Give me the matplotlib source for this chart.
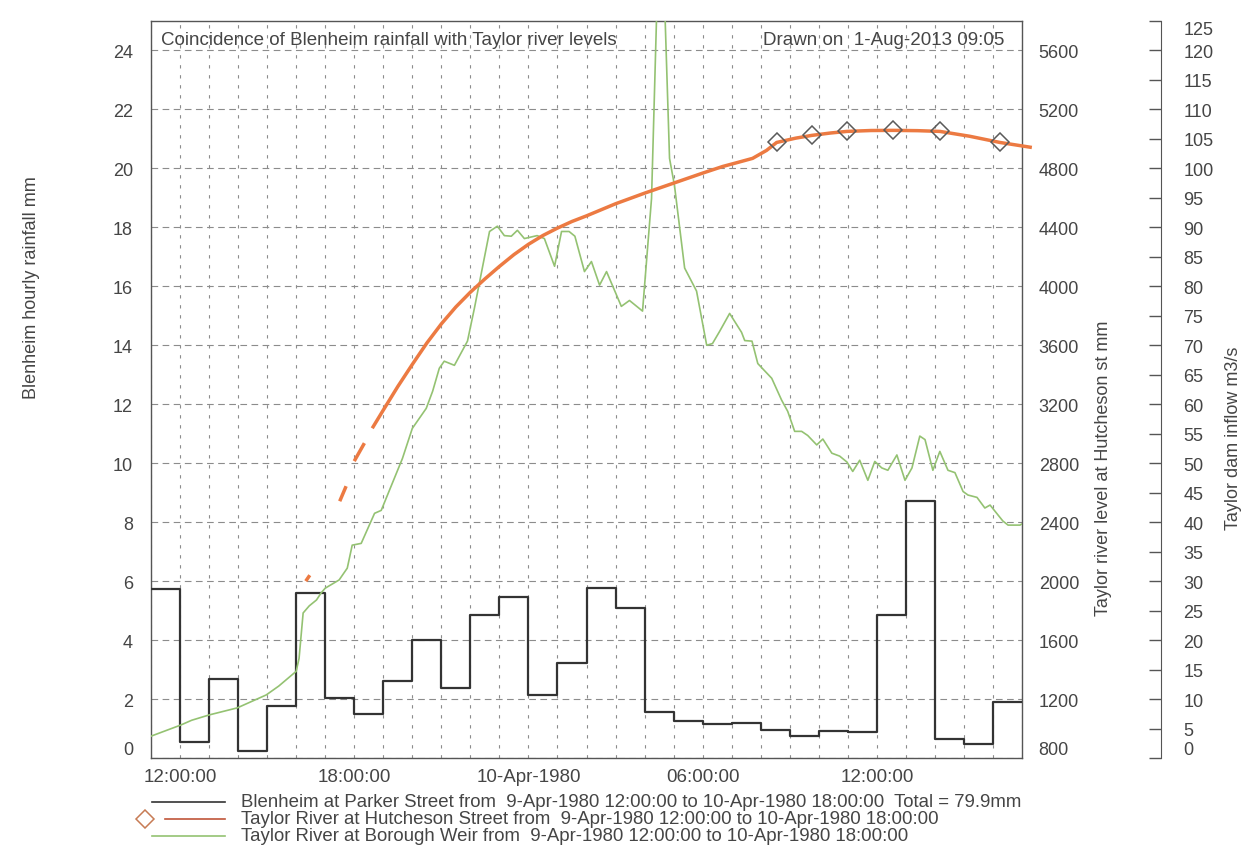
import matplotlib
matplotlib.use("Agg")
import matplotlib.pyplot as plt
import numpy as np
from matplotlib.lines import Line2D

FONT = ['Liberation Sans', 'DejaVu Sans']
NARROW = ['Liberation Sans Narrow', 'Liberation Sans', 'DejaVu Sans']
TXT = '#454545'
plt.rcParams['font.family'] = FONT

# hours since 9-Apr-1980 00:00
rain_start = list(range(11, 41))
rain_mm = [5.73, 0.54, 2.68, 0.24, 1.76, 5.6, 2.05, 1.48, 2.62, 4.01,
           2.37, 4.86, 5.46, 2.14, 3.23, 5.78, 5.08, 1.57, 1.27, 1.16,
           1.19, 0.95, 0.75, 0.9, 0.88, 4.86, 8.71, 0.66, 0.47, 1.9]

nan = np.nan
level_hours = [16.33, 16.47, nan, 17.5, 17.72, nan, 18.0, 18.35, nan,
               18.62, 19.0, 19.5, 20.0, 20.5, 21.0, 21.5, 22.0, 22.5, 23.0,
               23.5, 24.0, 24.5, 25.0, 25.5, 26.0, 27.0, 28.0, 29.0, 30.0,
               30.69, 31.2, 31.72, 32.2, 32.55, 33.2, 33.76, 34.4, 34.97,
               35.8, 36.55, 37.4, 38.17, 39.2, 40.24, 41.34]
level_mm = [2000, 2040, nan, 2542, 2644, nan, 2814, 2936, nan,
            3037, 3160, 3320, 3470, 3615, 3745, 3860, 3960, 4050, 4135,
            4215, 4285, 4345, 4395, 4440, 4478, 4560, 4632, 4700, 4768,
            4813, 4840, 4868, 4922, 4976, 5005, 5024, 5040, 5051,
            5057, 5058, 5056, 5051, 5018, 4976, 4942]
marker_hours = [32.55, 33.76, 34.97, 36.55, 38.17, 40.24]
marker_mm = [4976, 5024, 5051, 5058, 5051, 4976]

flow_hours = [11.0, 12.03, 12.4, 13.0, 13.97, 14.97, 15.4, 16.0, 16.1, 16.24,
              16.45, 16.7, 16.86, 17.0, 17.48, 17.76, 17.93, 18.24, 18.7, 18.93,
              19.66, 20.0, 20.48, 20.7, 20.93, 21.1, 21.45, 21.9, 22.14, 22.66,
              22.93, 23.17, 23.41, 23.62, 23.86, 24.3, 24.55, 24.9, 25.14, 25.4,
              25.6, 25.93, 26.17, 26.45, 26.69, 27.2, 27.48, 27.93, 28.24, 28.55,
              28.86, 29.03, 29.38, 29.79, 30.14, 30.34, 30.59, 30.93, 31.34, 31.45,
              31.7, 31.9, 32.38, 32.72, 32.93, 33.17, 33.41, 33.62, 33.93, 34.14,
              34.45, 34.72, 34.97, 35.17, 35.41, 35.69, 35.93, 36.17, 36.38, 36.69,
              36.97, 37.21, 37.48, 37.66, 37.93, 38.17, 38.45, 38.69, 38.97, 39.14,
              39.45, 39.72, 39.9, 40.34, 40.52, 40.93, 41.0]
flow_m3s = [3.7, 5.6, 6.4, 7.3, 8.5, 10.7, 12.2, 14.7, 16.9, 24.6,
            25.8, 26.8, 28.0, 28.8, 30.2, 32.2, 36.1, 36.4, 41.5, 42.0,
            50.8, 55.9, 59.3, 62.2, 66.1, 67.3, 66.6, 70.7, 76.3, 89.3,
            90.2, 88.6, 88.5, 89.5, 88.1, 88.6, 88.1, 83.4, 89.3, 89.3,
            88.5, 82.5, 84.2, 80.2, 82.5, 76.6, 77.6, 75.8, 94.9, 150.0,
            101.7, 97.1, 83.1, 79.2, 70.0, 70.3, 72.4, 75.4, 72.2, 70.8,
            70.7, 66.9, 64.4, 60.7, 58.8, 55.4, 55.4, 54.7, 53.1, 54.1,
            51.7, 51.2, 50.2, 48.6, 50.5, 47.1, 50.3, 49.2, 48.8, 51.4,
            47.1, 49.2, 54.6, 54.0, 48.8, 52.0, 48.8, 48.4, 45.2, 44.6,
            44.2, 42.4, 42.9, 40.2, 39.5, 39.5, 39.7]

xtick_hours = [12, 18, 24, 30, 36]
xtick_labels = ['12:00:00', '18:00:00', '10-Apr-1980', '06:00:00', '12:00:00']

legend_texts = [
    'Blenheim at Parker Street from  9-Apr-1980 12:00:00 to 10-Apr-1980 18:00:00  Total = 79.9mm',
    'Taylor River at Hutcheson Street from  9-Apr-1980 12:00:00 to 10-Apr-1980 18:00:00',
    'Taylor River at Borough Weir from  9-Apr-1980 12:00:00 to 10-Apr-1980 18:00:00',
]

W, H = 1256, 854
fig = plt.figure(figsize=(W / 100, H / 100), dpi=100)
L, R, T, B = 151, 1022, 22, 759
ax = fig.add_axes([L / W, 1 - B / H, (R - L) / W, (B - T) / H])
ax3 = ax.twinx()
ax2 = ax.twinx()

grid_c = '#8c8c8c'
spine_c = '#555555'

# rainfall
ax.set_xlim(11, 41)
ax.set_ylim(0, 25)
ax.step(rain_start + [41], rain_mm + [rain_mm[-1]], where='post',
        color='#333333', lw=1.6, zorder=3)
ax.set_yticks(range(0, 25, 2))
ax.set_xticks(xtick_hours)
ax.set_xticks(range(11, 42), minor=True)
ax.set_xticklabels(xtick_labels, family=NARROW, fontsize=13.5, color=TXT)
ax.tick_params(axis='x', which='both', length=0, pad=7)
ax.tick_params(axis='y', length=0, pad=13, labelsize=13, labelcolor=TXT)
ax.yaxis.grid(True, ls=(0, (6, 4)), color=grid_c, lw=0.8)
ax.xaxis.grid(True, which='both', ls=(0, (3, 6)), color=grid_c, lw=0.8)
ax.set_axisbelow(True)
for s in ax.spines.values():
    s.set_color(spine_c)
    s.set_linewidth(1.0)
ax.get_yticklabels()[0].set_va('bottom')

# inflow axis
ax3.set_ylim(0, 125)
ax3.plot(flow_hours, flow_m3s, color='#94c272', lw=1.2)
ax3.spines['right'].set_position(('axes', (1161 - L) / (R - L)))
for k in ['top', 'bottom', 'left']:
    ax3.spines[k].set_visible(False)
ax3.spines['right'].set_color(spine_c)
ax3.set_yticks(range(0, 126, 5))
ax3.tick_params(axis='y', direction='in', length=9, width=1, color=spine_c,
                pad=16, labelsize=13, labelcolor=TXT)
lab3 = ax3.get_yticklabels()
lab3[0].set_va('bottom')
lab3[-1].set_va('top')

# river level axis
ax2.set_ylim(800, 5800)
ax2.plot(level_hours, level_mm, color='#ec7a42', lw=2.5, clip_on=False,
         solid_capstyle='butt')
ax2.plot(marker_hours, marker_mm, ls='none', marker='D', ms=9.5, mfc='none',
         mec='#5a5a5a', mew=1.1)
ax2.set_yticks(range(800, 5601, 400))
ax2.tick_params(axis='y', length=0, pad=12, labelsize=13, labelcolor=TXT)
ax2.get_yticklabels()[0].set_va('bottom')
for k in ['top', 'bottom', 'left', 'right']:
    ax2.spines[k].set_visible(False)

# text inside the frame
ax.text(0.012, 0.987, 'Coincidence of Blenheim rainfall with Taylor river levels',
        transform=ax.transAxes, ha='left', va='top', fontsize=13.5, color=TXT)
ax.text(0.98, 0.987, 'Drawn on  1-Aug-2013 09:05', transform=ax.transAxes,
        ha='right', va='top', fontsize=13.5, color=TXT)

# axis titles
fig.text(32 / W, 1 - 288 / H, 'Blenheim hourly rainfall mm', rotation=90,
         ha='center', va='center', fontsize=13, color=TXT)
fig.text(1104 / W, 1 - 468 / H, 'Taylor river level at Hutcheson st mm',
         rotation=90, ha='center', va='center', fontsize=13, color=TXT)
fig.text(1233 / W, 1 - 438 / H, 'Taylor dam inflow m3/s', rotation=90,
         ha='center', va='center', fontsize=13, color=TXT)

# legend below the chart
rows = [803, 820, 837]
colors = ['#333333', '#c0553a', '#94c272']
starts = [152, 165, 152]
for y, c, x0, txt in zip(rows, colors, starts, legend_texts):
    fy = 1 - y / H
    fig.add_artist(Line2D([x0 / W, 225 / W], [fy, fy], color=c, lw=1.2,
                          transform=fig.transFigure))
    fig.text(241 / W, fy, txt, ha='left', va='center', family=NARROW,
             fontsize=13.4, color=TXT)
fig.add_artist(Line2D([145 / W], [1 - rows[1] / H], marker='D', ms=9,
                      mfc='none', mec='#c77b55', mew=1.1, ls='none',
                      transform=fig.transFigure))

fig.savefig('out.png', dpi=100)
